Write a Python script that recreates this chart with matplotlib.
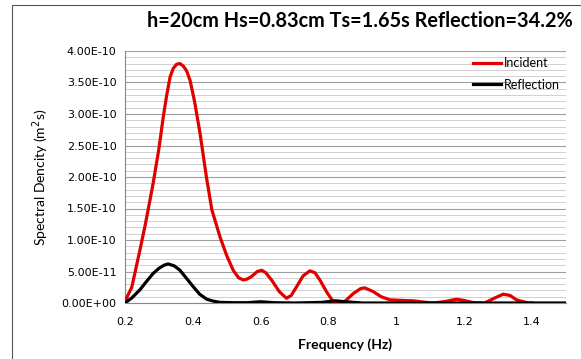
import numpy as np
import matplotlib.pyplot as plt
from matplotlib.lines import Line2D
from matplotlib.ticker import MultipleLocator

# incident spectrum (freq in Hz, density in 1e-11 m^2s)
f_inc = [0.20, 0.22, 0.244, 0.26, 0.283, 0.30, 0.313, 0.323, 0.333, 0.342, 0.352, 0.362,
         0.372, 0.382, 0.392, 0.405, 0.421, 0.44, 0.456, 0.48, 0.50, 0.519, 0.535, 0.549,
         0.56, 0.573, 0.59, 0.603, 0.615, 0.632, 0.655, 0.676, 0.69, 0.706, 0.725, 0.745,
         0.76, 0.775, 0.795, 0.814, 0.843, 0.873, 0.895, 0.907, 0.932, 0.955, 0.981, 1.02,
         1.05, 1.08, 1.108, 1.14, 1.177, 1.20, 1.227, 1.26, 1.29, 1.315, 1.335, 1.354,
         1.388, 1.40]
s_inc = [0.3, 2.5, 8.4, 12.5, 19.0, 24.5, 29.6, 33.0, 35.9, 37.2, 37.9, 38.0,
         37.6, 36.8, 35.3, 32.0, 27.0, 20.0, 14.8, 10.5, 7.5, 5.2, 4.0, 3.65,
         3.8, 4.2, 5.0, 5.2, 4.8, 3.65, 1.8, 0.75, 1.2, 2.6, 4.3, 5.1,
         4.8, 3.6, 1.7, 0.2, 0.0, 1.5, 2.3, 2.4, 1.8, 1.0, 0.5, 0.4,
         0.35, 0.15, 0.0, 0.2, 0.6, 0.4, 0.05, 0.0, 0.8, 1.4, 1.2, 0.5,
         0.0, 0.0]

# reflected spectrum
f_ref = [0.20, 0.22, 0.244, 0.26, 0.283, 0.30, 0.315, 0.327, 0.345, 0.362, 0.38, 0.401,
         0.42, 0.441, 0.46, 0.48, 0.52, 0.56, 0.60, 0.64, 0.70, 0.78, 0.82, 0.85,
         0.90, 1.0, 1.2, 1.4, 1.5]
s_ref = [0.0, 0.8, 2.1, 3.2, 4.7, 5.5, 6.0, 6.2, 5.9, 5.2, 4.0, 2.6,
         1.4, 0.6, 0.3, 0.1, 0.05, 0.05, 0.2, 0.05, 0.0, 0.1, 0.35, 0.2,
         0.0, 0.0, 0.0, 0.0, 0.0]

yticks = np.arange(0, 4.01e-10, 5e-11)
ylabels = ['0.00E+00', '5.00E-11', '1.00E-10', '1.50E-10', '2.00E-10',
           '2.50E-10', '3.00E-10', '3.50E-10', '4.00E-10']

fig = plt.figure(figsize=(5.81, 3.59), dpi=100)
# chart area border (left and top edges only visible)
fig.add_artist(Line2D([12/581, 12/581, 1], [0, 1-5/359, 1-5/359], transform=fig.transFigure,
                      color='#555555', lw=0.8))
ax = fig.add_axes([125/581, 1-303/359, 441/581, 252/359])

ax.plot(f_inc, np.array(s_inc)*1e-11, color='#e00000', lw=2.3, label='Incident', zorder=3)
ax.plot(f_ref, np.array(s_ref)*1e-11, color='black', lw=2.3, label='Reflection', zorder=3)

ax.set_xlim(0.2, 1.5)
ax.set_ylim(0, 4e-10)
ax.set_xticks([0.2, 0.4, 0.6, 0.8, 1.0, 1.2, 1.4])
ax.set_xticklabels(['0.2', '0.4', '0.6', '0.8', '1', '1.2', '1.4'])
ax.set_yticks(yticks)
ax.set_yticklabels(ylabels)
ax.yaxis.set_minor_locator(MultipleLocator(1e-11))
ax.grid(which='major', axis='y', color='#a0a0a0', lw=0.8)
ax.grid(which='minor', axis='y', color='#d0d0d0', lw=0.7)
ax.set_axisbelow(True)
ax.tick_params(axis='both', which='both', length=0, labelsize=8, pad=6)
ax.tick_params(axis='x', pad=10)
for s in ['top', 'right']:
    ax.spines[s].set_visible(False)
for s in ['left', 'bottom']:
    ax.spines[s].set_color('#888888')
    ax.spines[s].set_linewidth(0.8)

ax.set_xlabel('Frequency (Hz)', fontsize=10, fontweight='bold', family='Lato', labelpad=8)
ax.set_ylabel('Spectral Dencity (m$^2$s)', fontsize=10, family='Lato', labelpad=8)
fig.text(360/581, 1-21/359, 'h=20cm Hs=0.83cm Ts=1.65s Reflection=34.2%',
         ha='center', va='center', fontsize=14.3, fontweight='bold', family='Lato')

leg = ax.legend(loc='upper right', frameon=False, handlelength=2.3,
                handletextpad=0.2, borderaxespad=0.1, labelspacing=0.75,
                prop={'family': 'Lato', 'size': 9})

fig.savefig('out.png', dpi=100)
